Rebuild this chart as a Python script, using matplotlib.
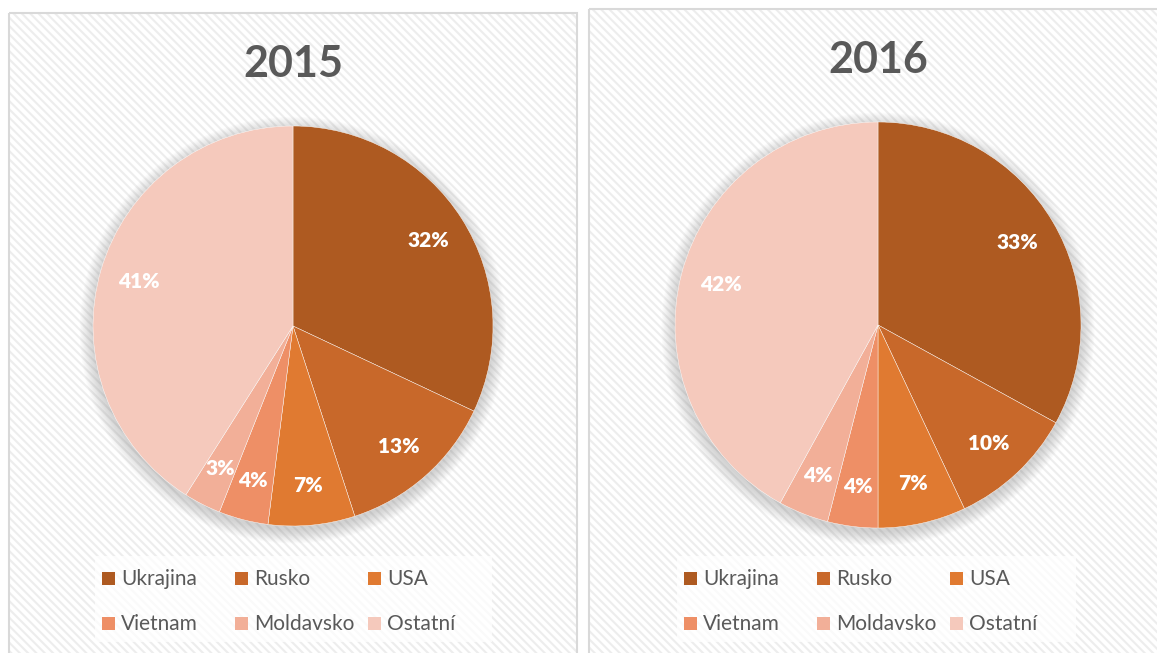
import matplotlib
matplotlib.use('Agg')
import matplotlib.pyplot as plt
from matplotlib.patches import Rectangle, Circle
import numpy as np

# data
countries = ['Ukrajina', 'Rusko', 'USA', 'Vietnam', 'Moldavsko', 'Ostatní']
years = ['2015', '2016']
share_2015 = [32, 13, 7, 4, 3, 41]
share_2016 = [33, 10, 7, 4, 4, 42]
colors = ['#AE5A21', '#C8682A', '#E07A31', '#EE8F66', '#F2AF98', '#F5C9BC']

W, H = 1157, 653
plt.rcParams['font.family'] = ['Lato', 'DejaVu Sans']
plt.rcParams['hatch.linewidth'] = 1.5
text_grey = '#595959'

fig = plt.figure(figsize=(W / 100, H / 100), dpi=100)
fig.patch.set_facecolor('white')

# background axes in pixel coordinates (y grows downward)
bg = fig.add_axes([0, 0, 1, 1])
bg.set_xlim(0, W)
bg.set_ylim(H, 0)
bg.axis('off')

# panel frames: (left, top, right) in px; pie centre + radius; legend box
panels = [
	dict(x0=9, y0=13, x1=577, cx=293, cy=326, r=200, ty=64, leg=(95, 556, 492, 642)),
	dict(x0=589, y0=9, x1=1162, cx=878, cy=325, r=203, ty=60, leg=(677, 556, 1076, 642)),
]

for p, year, shares in zip(panels, years, [share_2015, share_2016]):
	# hatched background
	bg.add_patch(Rectangle((p['x0'], p['y0']), p['x1'] - p['x0'], H + 10 - p['y0'],
	                       facecolor='white', edgecolor='#EDEDED', hatch='\\\\\\\\', linewidth=0))
	bg.add_patch(Rectangle((p['x0'], p['y0']), p['x1'] - p['x0'], H + 10 - p['y0'],
	                       facecolor='none', edgecolor='#D9D9D9', linewidth=1.5))

	# legend box
	lx0, ly0, lx1, ly1 = p['leg']
	bg.add_patch(Rectangle((lx0, ly0), lx1 - lx0, ly1 - ly0, facecolor='white',
	                       edgecolor='none', alpha=0.75))

	# title
	bg.text(p['cx'], p['ty'], year, ha='center', va='center',
	        fontsize=31, fontweight='bold', color=text_grey)

	# pie axes
	scale = 1.25
	size = 2 * p['r'] * scale
	ax = fig.add_axes([(p['cx'] - size / 2) / W, (H - p['cy'] - size / 2) / H, size / W, size / H])
	ax.set_xlim(-scale, scale)
	ax.set_ylim(-scale, scale)
	ax.set_aspect('equal')
	ax.axis('off')

	# soft shadow, a little below the pie
	for k in range(12):
		ax.add_patch(Circle((0.0, -0.02), 1.0 + 0.006 * k, facecolor='#808080',
		                    alpha=0.03, edgecolor='none', zorder=0))

	wedges, texts, autotexts = ax.pie(
		shares, colors=colors, startangle=90, counterclock=False,
		autopct=lambda v: f'{v:.0f}%', pctdistance=0.8, radius=1.0,
		wedgeprops=dict(edgecolor='#FFFFFF', linewidth=0.3))
	for w in wedges:
		w.set_zorder(2)
	for t in autotexts:
		t.set_color('white')
		t.set_fontsize(15)
		t.set_fontweight('heavy')
		t.set_zorder(3)

	# legend, row-wise, three columns
	col_x = [lx0 + 7, lx0 + 140, lx0 + 273]
	row_y = [578, 623]
	for i, (name, c) in enumerate(zip(countries, colors)):
		mx = col_x[i % 3]
		my = row_y[i // 3]
		bg.add_patch(Rectangle((mx, my - 6.5), 13, 13, facecolor=c, edgecolor='none'))
		bg.text(mx + 19, my + 1, name, ha='left', va='center', fontsize=15, color=text_grey)

fig.savefig('out.png', dpi=100)
